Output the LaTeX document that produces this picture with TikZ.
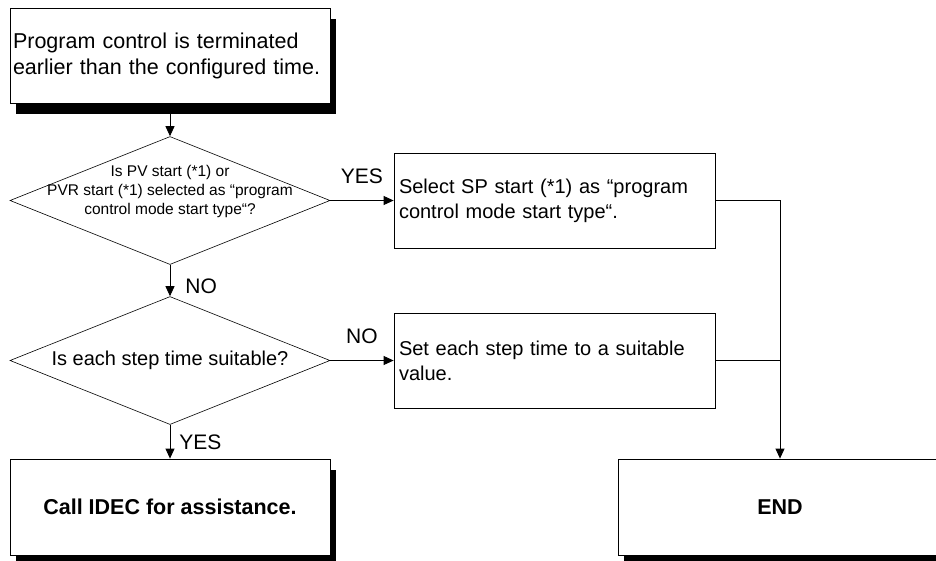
\documentclass[tikz,border=0pt]{standalone}
\usepackage{fontspec}
\setmainfont{Liberation Sans}
\usetikzlibrary{positioning,shapes.geometric,arrows.meta,shadows}

\begin{document}
\begin{tikzpicture}[
    x=1pt, y=-1pt,
    box/.style={rectangle,draw,line width=0.8pt,fill=white,minimum width=320pt,minimum height=95pt,inner sep=0pt},
    shadowed/.style={drop shadow={shadow xshift=6pt,shadow yshift=-11pt,fill=black,opacity=1}},
    startbox/.style={box,align=left,text width=314pt,inner xsep=3pt,font=\fontsize{21.5}{26}\selectfont},
    stepbox/.style={box,align=left,text width=311pt,inner xsep=5pt,font=\fontsize{20}{25}\selectfont},
    endbox/.style={box,minimum height=96pt,font=\fontsize{21.5}{26}\selectfont\bfseries},
    decision/.style={diamond,draw,line width=0.6pt,minimum width=320pt,minimum height=128pt,inner sep=0pt},
    qtext/.style={align=center,inner sep=0pt},
    lbl/.style={inner sep=0pt,font=\fontsize{21}{25}\selectfont},
    arrow/.style={-{Triangle[length=10pt,width=9pt]},line width=0.8pt}
]
\useasboundingbox (0,0) rectangle (936,560);

% left column
\node[startbox,shadowed] (start) at (170,55.5) {Program control is terminated\\earlier than the configured time.};
\node[decision] (q1) at (170,200.5) {};
\node[qtext,font=\fontsize{15.5}{19}\selectfont] (q1text) at ([yshift=9pt]q1.center) {Is PV start (*1) or\\PVR start (*1) selected as “program\\control mode start type“?};
\node[decision] (q2) at (170,360.5) {};
\node[qtext,font=\fontsize{20}{24}\selectfont] (q2text) at (q2.center) {Is each step time suitable?};
\node[endbox,shadowed] (call) at (170,507) {Call IDEC for assistance.};

% right column
\node[stepbox,minimum width=321pt] (sel) at (554.5,200.5) {Select SP start (*1) as “program\\control mode start type“.};
\node[stepbox,minimum width=321pt] (fix) at (554.5,360.5) {Set each step time to a suitable\\value.};
\node[endbox,shadowed,minimum width=324pt] (end) at (780,507) {END};

% connectors
\draw[arrow] (start) -- (q1);
\draw[arrow] (q1) -- node[lbl,above=16pt] (yes1) {YES} (sel);
\draw[arrow] (q1) -- node[lbl,right=15pt,pos=0.67] (no1) {NO} (q2);
\draw[arrow] (q2) -- node[lbl,above=16pt] (no2) {NO} (fix);
\draw[arrow] (q2) -- node[lbl,right=9pt,pos=0.53] (yes2) {YES} (call);
\draw[arrow] (sel) -| (end);
\draw[line width=0.8pt] (fix) -- (fix -| end);
\end{tikzpicture}
\end{document}
